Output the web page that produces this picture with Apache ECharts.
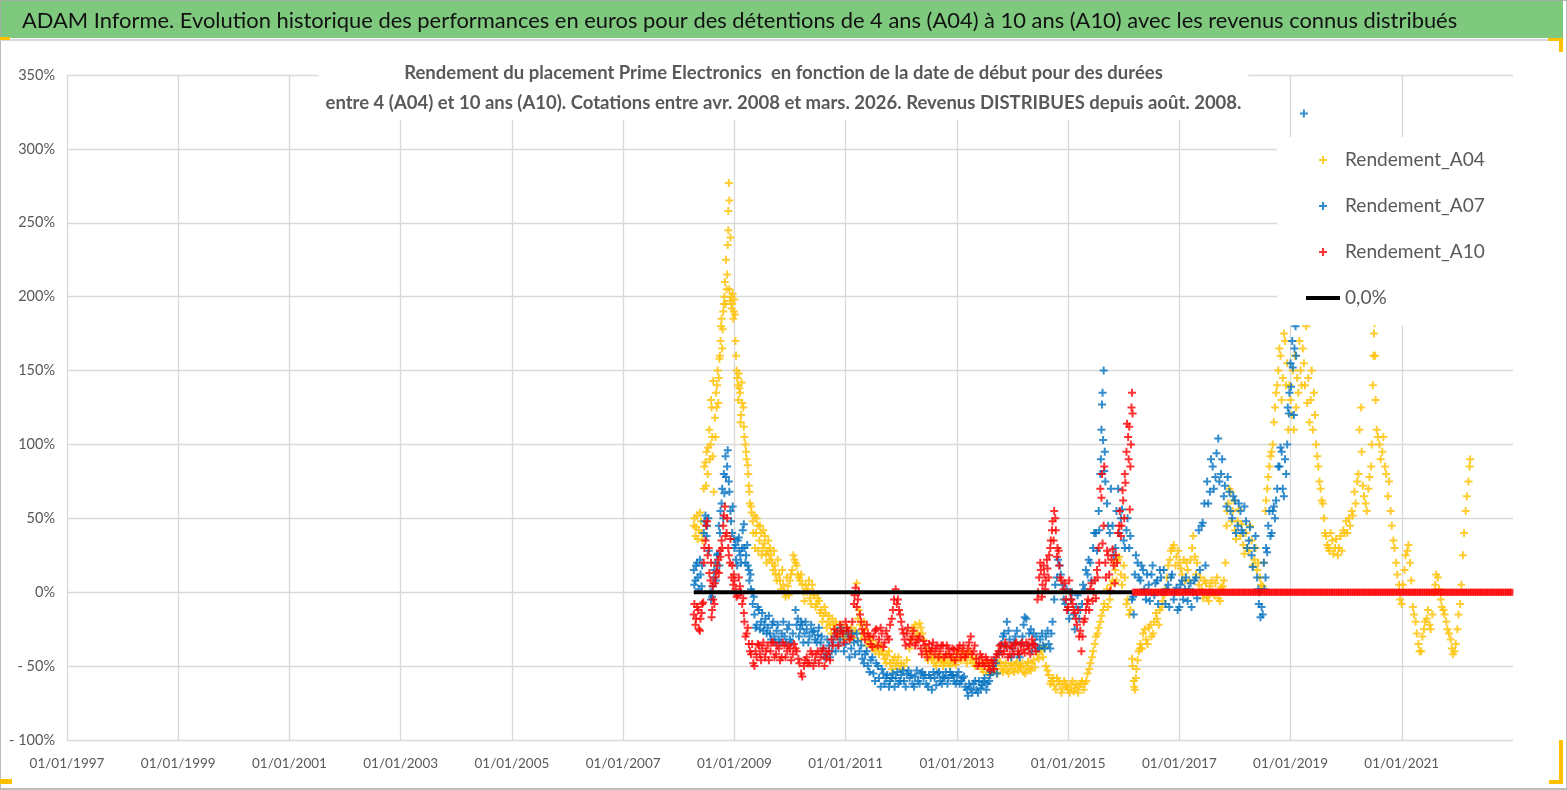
<!DOCTYPE html>
<html style="height: 100%">

<head>
    <meta charset="utf-8">
    <title>Rendement Prime Electronics</title>
</head>

<body style="height: 100%; margin: 0">
    <div id="container" style="width: 1567px; height: 790px"></div>
    <script src="https://cdn.jsdelivr.net/npm/echarts@6/dist/echarts.min.js"></script>
    <script type="text/javascript">
        var myChart = echarts.init(document.getElementById('container'));

        // textes
        var headerText = 'ADAM Informe. Evolution historique des performances en euros pour des détentions de 4 ans (A04) à 10 ans (A10) avec les revenus connus distribués';
        var subLine1 = 'Rendement du placement Prime Electronics  en fonction de la date de début pour des durées';
        var subLine2 = 'entre 4 (A04) et 10 ans (A10). Cotations entre avr. 2008 et mars. 2026. Revenus DISTRIBUES depuis août. 2008.';
        var seriesNames = ['Rendement_A04', 'Rendement_A07', 'Rendement_A10', '0,0%'];

        // axe des dates (annees) et axe des rendements (%)
        var xTicks = [1997, 1999, 2001, 2003, 2005, 2007, 2009, 2011, 2013, 2015, 2017, 2019, 2021, 2023];
        var yTicks = [-100, -50, 0, 50, 100, 150, 200, 250, 300, 350];

        // [date de debut (annee decimale), rendement en %]
        var a04 = [
            [2008.27, 45], [2008.30, 38], [2008.33, 52], [2008.36, 42], [2008.40, 48], [2008.43, 35],
            [2008.45, 70], [2008.48, 88], [2008.50, 95], [2008.52, 80], [2008.55, 110], [2008.57, 100],
            [2008.59, 125], [2008.61, 92], [2008.63, 68], [2008.65, 118], [2008.67, 135], [2008.69, 140],
            [2008.71, 128], [2008.73, 158], [2008.75, 170], [2008.77, 185], [2008.79, 178], [2008.81, 195],
            [2008.83, 210], [2008.85, 225], [2008.86, 205], [2008.88, 235], [2008.89, 258], [2008.90, 277],
            [2008.91, 265], [2008.93, 240], [2008.94, 200], [2008.96, 195], [2008.98, 185], [2009.00, 198],
            [2009.02, 170], [2009.04, 150], [2009.06, 140], [2009.08, 148], [2009.10, 135], [2009.12, 120],
            [2009.14, 128], [2009.17, 112], [2009.20, 100], [2009.22, 90], [2009.25, 80], [2009.27, 68],
            [2009.30, 58], [2009.33, 48], [2009.36, 52], [2009.39, 40], [2009.42, 45], [2009.45, 35],
            [2009.48, 40], [2009.51, 30], [2009.54, 33], [2009.57, 26], [2009.60, 28], [2009.63, 22],
            [2009.66, 25], [2009.70, 15], [2009.73, 18], [2009.76, 8], [2009.80, 12], [2009.84, 2],
            [2009.88, 5], [2009.92, -3], [2009.96, 4], [2010.00, 8], [2010.04, 15], [2010.08, 22],
            [2010.12, 18], [2010.16, 10], [2010.20, 12], [2010.24, 0], [2010.28, 5], [2010.32, 2],
            [2010.36, -4], [2010.40, 5], [2010.44, -2], [2010.48, -8], [2010.52, -6], [2010.56, -12],
            [2010.60, -16], [2010.64, -14], [2010.68, -20], [2010.72, -22], [2010.76, -18], [2010.80, -25],
            [2010.85, -27], [2010.90, -24], [2010.95, -30], [2011.00, -26], [2011.05, -29], [2011.10, -24],
            [2011.15, -31], [2011.20, 6], [2011.22, -18], [2011.26, -22], [2011.30, -28], [2011.35, -25],
            [2011.40, -32], [2011.45, -35], [2011.50, -38], [2011.55, -36], [2011.60, -42], [2011.65, -40],
            [2011.70, -45], [2011.75, -43], [2011.80, -48], [2011.85, -46], [2011.90, -50], [2011.95, -44],
            [2012.00, -48], [2012.05, -50], [2012.10, -46], [2012.15, -38], [2012.20, -26], [2012.25, -22],
            [2012.30, -28], [2012.35, -24], [2012.40, -32], [2012.45, -38], [2012.50, -42], [2012.55, -45],
            [2012.60, -48], [2012.65, -44], [2012.70, -47], [2012.75, -50], [2012.80, -46], [2012.85, -48],
            [2012.90, -44], [2012.95, -47], [2013.00, -42], [2013.05, -45], [2013.10, -40], [2013.15, -44],
            [2013.20, -42], [2013.25, -46], [2013.30, -48], [2013.35, -45], [2013.40, -50], [2013.45, -52],
            [2013.50, -48], [2013.55, -52], [2013.60, -50], [2013.65, -54], [2013.70, -50], [2013.75, -48],
            [2013.80, -52], [2013.85, -50], [2013.90, -53], [2013.95, -50], [2014.00, -52], [2014.05, -49],
            [2014.10, -53], [2014.15, -51], [2014.20, -54], [2014.25, -50], [2014.30, -52], [2014.35, -48],
            [2014.40, -51], [2014.45, -42], [2014.50, -38], [2014.55, -44], [2014.60, -50], [2014.65, -56],
            [2014.70, -60], [2014.75, -63], [2014.80, -58], [2014.85, -62], [2014.90, -65], [2014.95, -62],
            [2015.00, -66], [2015.05, -63], [2015.10, -67], [2015.15, -62], [2015.20, -64], [2015.25, -60],
            [2015.30, -62], [2015.35, -55], [2015.40, -48], [2015.45, -40], [2015.50, -30], [2015.55, -24],
            [2015.60, -16], [2015.65, -8], [2015.70, 2], [2015.75, -5], [2015.80, 8], [2015.85, 15],
            [2015.90, 22], [2015.95, 12], [2016.00, 18], [2016.05, -8], [2016.10, -15], [2016.15, -45],
            [2016.18, -60], [2016.20, -66], [2016.23, -52], [2016.27, -40], [2016.30, -35], [2016.35, -28],
            [2016.40, -32], [2016.45, -24], [2016.50, -30], [2016.55, -20], [2016.60, -18], [2016.65, -12],
            [2016.70, -6], [2016.75, 2], [2016.80, 18], [2016.85, 28], [2016.90, 32], [2016.95, 24],
            [2017.00, 20], [2017.05, 12], [2017.10, 8], [2017.15, 15], [2017.20, 22], [2017.25, 38],
            [2017.30, 12], [2017.35, 5], [2017.40, 2], [2017.45, 8], [2017.50, -3], [2017.55, 4],
            [2017.60, 0], [2017.65, 6], [2017.70, -4], [2017.75, 3], [2017.80, 8], [2017.85, 45],
            [2017.88, 60], [2017.92, 68], [2017.96, 55], [2018.00, 42], [2018.05, 48], [2018.10, 38],
            [2018.15, 32], [2018.20, 40], [2018.25, 28], [2018.30, 35], [2018.35, 22], [2018.40, 15],
            [2018.45, 10], [2018.50, 4], [2018.55, 55], [2018.58, 70], [2018.62, 85], [2018.66, 95],
            [2018.70, 115], [2018.74, 135], [2018.78, 150], [2018.82, 160], [2018.86, 145], [2018.90, 170],
            [2018.94, 155], [2018.98, 140], [2019.02, 120], [2019.06, 110], [2019.10, 125], [2019.14, 135],
            [2019.18, 150], [2019.22, 165], [2019.26, 140], [2019.30, 128], [2019.34, 115], [2019.38, 150],
            [2019.42, 135], [2019.46, 100], [2019.50, 85], [2019.54, 70], [2019.58, 60], [2019.62, 40],
            [2019.66, 32], [2019.70, 28], [2019.75, 35], [2019.80, 30], [2019.85, 25], [2019.90, 38],
            [2019.95, 42], [2020.00, 48], [2020.05, 50], [2020.10, 55], [2020.15, 68], [2020.20, 75],
            [2020.24, 110], [2020.27, 125], [2020.30, 72], [2020.35, 60], [2020.40, 70], [2020.45, 85],
            [2020.48, 140], [2020.50, 175], [2020.52, 160], [2020.55, 110], [2020.60, 100], [2020.65, 95],
            [2020.70, 85], [2020.75, 65], [2020.80, 55], [2020.85, 35], [2020.90, 20], [2020.95, 5],
            [2021.00, -8], [2021.05, 15], [2021.10, 28], [2021.15, 20], [2021.20, -10], [2021.25, -20],
            [2021.30, -35], [2021.35, -40], [2021.40, -25], [2021.45, -18], [2021.50, -22], [2021.55, -15],
            [2021.60, 5], [2021.65, 10], [2021.70, -5], [2021.75, -12], [2021.80, -20], [2021.85, -28],
            [2021.90, -38], [2021.95, -40], [2022.00, -25], [2022.05, -8], [2022.10, 25], [2022.15, 55],
            [2022.20, 75], [2022.23, 90]
        ];
        // deuxieme lecture : l'autre bord de chaque bande de points
        var a04Extra = [
            [2008.28, 50], [2008.31, 44], [2008.34, 36], [2008.38, 54], [2008.41, 40], [2008.46, 85],
            [2008.49, 72], [2008.53, 98], [2008.56, 90], [2008.58, 130], [2008.60, 105], [2008.62, 143],
            [2008.66, 105], [2008.68, 125], [2008.70, 150], [2008.72, 145], [2008.74, 160], [2008.76, 180],
            [2008.78, 165], [2008.80, 190], [2008.82, 200], [2008.84, 195], [2008.87, 215], [2008.89, 245],
            [2008.91, 205], [2008.92, 197], [2008.95, 192], [2008.97, 202], [2008.99, 190], [2009.01, 188],
            [2009.03, 160], [2009.05, 145], [2009.07, 130], [2009.09, 138], [2009.11, 115], [2009.13, 142],
            [2009.16, 125], [2009.18, 105], [2009.21, 95], [2009.24, 86], [2009.26, 72], [2009.28, 60],
            [2009.31, 54], [2009.34, 40], [2009.37, 30], [2009.40, 50], [2009.43, 28], [2009.46, 45],
            [2009.49, 25], [2009.52, 42], [2009.55, 38], [2009.58, 20], [2009.61, 35], [2009.64, 30],
            [2009.68, 20], [2009.71, 28], [2009.74, 12], [2009.78, 22], [2009.82, 8], [2009.86, 15],
            [2009.90, 0], [2009.94, 10], [2009.98, -2], [2010.02, 12], [2010.06, 25], [2010.10, 20],
            [2010.14, 12], [2010.18, 8], [2010.22, 5], [2010.26, -6], [2010.30, 0], [2010.34, 8],
            [2010.38, -8], [2010.42, 0], [2010.46, -10], [2010.50, -4], [2010.54, -14], [2010.58, -20],
            [2010.62, -10], [2010.66, -24], [2010.70, -16], [2010.74, -28], [2010.78, -22], [2010.82, -20],
            [2010.88, -30], [2010.92, -22], [2010.98, -32], [2011.03, -24], [2011.08, -32], [2011.12, -27],
            [2011.18, -26], [2011.24, -12], [2011.28, -32], [2011.33, -20], [2011.38, -36], [2011.43, -30],
            [2011.48, -33], [2011.53, -40], [2011.58, -38], [2011.63, -36], [2011.68, -42], [2011.73, -48],
            [2011.78, -40], [2011.83, -52], [2011.88, -44], [2011.93, -48], [2011.98, -52], [2012.18, -32],
            [2012.22, -24], [2012.27, -30], [2012.33, -21], [2012.38, -28], [2012.43, -42], [2012.48, -46],
            [2012.53, -40], [2012.58, -44], [2012.63, -50], [2012.68, -42], [2012.73, -45], [2012.78, -48],
            [2012.83, -42], [2012.88, -50], [2012.93, -45], [2012.98, -49], [2013.03, -40], [2013.08, -46],
            [2013.13, -42], [2013.18, -48], [2013.23, -40], [2013.28, -44], [2013.33, -50], [2013.43, -48],
            [2013.48, -54], [2013.53, -47], [2013.58, -55], [2013.63, -48], [2013.68, -52], [2013.73, -55],
            [2013.78, -47], [2013.83, -54], [2013.88, -48], [2013.93, -55], [2013.98, -48], [2014.03, -54],
            [2014.08, -47], [2014.13, -50], [2014.18, -48], [2014.23, -55], [2014.28, -47], [2014.33, -53],
            [2014.38, -46], [2014.47, -45], [2014.52, -40], [2014.57, -37], [2014.63, -53], [2014.68, -62],
            [2014.73, -58], [2014.78, -66], [2014.83, -60], [2014.88, -68], [2014.93, -60], [2014.98, -64],
            [2015.03, -68], [2015.08, -60], [2015.13, -65], [2015.18, -68], [2015.23, -62], [2015.28, -66],
            [2015.33, -60], [2015.38, -52], [2015.43, -44], [2015.48, -35], [2015.53, -28], [2015.58, -20],
            [2015.63, -12], [2015.72, -10], [2015.77, 5], [2015.82, 20], [2015.87, 8], [2015.92, 24],
            [2015.97, 5], [2016.02, 10], [2016.07, -5], [2016.12, -12], [2016.16, -50], [2016.19, -64],
            [2016.22, -58], [2016.25, -46], [2016.29, -38], [2016.33, -38], [2016.38, -25], [2016.43, -35],
            [2016.48, -22], [2016.53, -28], [2016.58, -14], [2016.63, -22], [2016.68, -10], [2016.73, -2],
            [2016.78, 10], [2016.83, 22], [2016.88, 30], [2016.93, 18], [2016.98, 28], [2017.03, 16],
            [2017.08, 22], [2017.13, 20], [2017.18, 8], [2017.23, 30], [2017.28, 24], [2017.32, 20],
            [2017.38, 10], [2017.43, -4], [2017.48, 6], [2017.53, -6], [2017.58, 8], [2017.63, -2],
            [2017.68, 10], [2017.73, -6], [2017.78, 4], [2017.83, 20], [2017.86, 55], [2017.90, 70],
            [2017.94, 48], [2017.98, 62], [2018.02, 36], [2018.07, 56], [2018.12, 46], [2018.17, 26],
            [2018.22, 30], [2018.27, 45], [2018.32, 18], [2018.37, 30], [2018.42, 20], [2018.47, 5],
            [2018.52, 20], [2018.56, 62], [2018.60, 78], [2018.64, 92], [2018.68, 100], [2018.72, 125],
            [2018.76, 140], [2018.80, 165], [2018.84, 130], [2018.88, 175], [2018.92, 140], [2018.96, 110],
            [2019.00, 130], [2019.04, 150], [2019.08, 160], [2019.12, 145], [2019.16, 170], [2019.20, 140],
            [2019.24, 155], [2019.28, 180], [2019.32, 145], [2019.36, 130], [2019.40, 110], [2019.44, 120],
            [2019.48, 92], [2019.52, 75], [2019.56, 62], [2019.60, 50], [2019.64, 38], [2019.68, 30],
            [2019.72, 40], [2019.77, 26], [2019.82, 36], [2019.87, 30], [2019.92, 28], [2019.97, 40],
            [2020.02, 40], [2020.07, 45], [2020.12, 52], [2020.17, 60], [2020.22, 80], [2020.28, 95],
            [2020.32, 65], [2020.37, 55], [2020.42, 78], [2020.46, 100], [2020.49, 160], [2020.51, 182],
            [2020.53, 130], [2020.57, 105], [2020.62, 90], [2020.67, 105], [2020.72, 80], [2020.77, 75],
            [2020.82, 45], [2020.87, 30], [2020.92, 12], [2020.97, -5], [2021.02, 5], [2021.07, 25],
            [2021.12, 32], [2021.17, 8], [2021.22, -15], [2021.27, -28], [2021.32, -40], [2021.37, -30],
            [2021.42, -20], [2021.47, -12], [2021.52, -25], [2021.57, 0], [2021.62, 12], [2021.67, 2],
            [2021.72, -10], [2021.77, -15], [2021.82, -25], [2021.88, -32], [2021.92, -42], [2021.97, -35],
            [2022.02, -15], [2022.07, 5], [2022.12, 40], [2022.17, 65], [2022.22, 85]
        ];

        var a07 = [
            [2008.27, 15], [2008.30, 8], [2008.33, 20], [2008.36, 2], [2008.39, 12], [2008.42, 18],
            [2008.45, 40], [2008.48, 52], [2008.51, 45], [2008.54, 28], [2008.57, 0], [2008.60, -3],
            [2008.63, 10], [2008.66, 20], [2008.69, 25], [2008.72, 45], [2008.75, 55], [2008.78, 70],
            [2008.81, 80], [2008.84, 92], [2008.87, 85], [2008.90, 75], [2008.93, 55], [2008.96, 40],
            [2009.00, 30], [2009.03, 22], [2009.06, 35], [2009.09, 28], [2009.12, 20], [2009.15, 42],
            [2009.18, 30], [2009.21, 25], [2009.24, 18], [2009.27, 8], [2009.30, 2], [2009.33, -8],
            [2009.36, -15], [2009.40, -22], [2009.44, -12], [2009.48, -20], [2009.52, -26], [2009.56, -18],
            [2009.60, -24], [2009.64, -28], [2009.68, -22], [2009.72, -30], [2009.76, -26], [2009.80, -32],
            [2009.85, -28], [2009.90, -30], [2009.95, -25], [2010.00, -32], [2010.05, -28], [2010.10, -12],
            [2010.14, -18], [2010.18, -25], [2010.22, -22], [2010.26, -28], [2010.30, -25], [2010.35, -30],
            [2010.40, -27], [2010.45, -32], [2010.50, -29], [2010.55, -34], [2010.60, -38], [2010.65, -42],
            [2010.70, -36], [2010.75, -40], [2010.80, -30], [2010.85, -26], [2010.90, -32], [2010.95, -28],
            [2011.00, -35], [2011.05, -30], [2011.10, -38], [2011.15, -34], [2011.20, -28], [2011.25, -40],
            [2011.30, -45], [2011.35, -42], [2011.40, -50], [2011.45, -46], [2011.50, -55], [2011.55, -48],
            [2011.60, -58], [2011.65, -52], [2011.70, -62], [2011.75, -56], [2011.80, -60], [2011.85, -55],
            [2011.90, -58], [2011.95, -62], [2012.00, -56], [2012.05, -60], [2012.10, -55], [2012.15, -58],
            [2012.20, -62], [2012.25, -57], [2012.30, -60], [2012.35, -55], [2012.40, -58], [2012.45, -62],
            [2012.50, -56], [2012.55, -66], [2012.60, -58], [2012.65, -55], [2012.70, -60], [2012.75, -57],
            [2012.80, -54], [2012.85, -58], [2012.90, -56], [2012.95, -60], [2013.00, -57], [2013.05, -62],
            [2013.10, -58], [2013.15, -64], [2013.20, -70], [2013.25, -65], [2013.30, -62], [2013.35, -66],
            [2013.40, -60], [2013.45, -63], [2013.50, -58], [2013.55, -62], [2013.60, -56], [2013.65, -50],
            [2013.70, -48], [2013.75, -42], [2013.80, -35], [2013.85, -28], [2013.90, -20], [2013.95, -32],
            [2014.00, -38], [2014.05, -30], [2014.10, -42], [2014.15, -35], [2014.20, -22], [2014.25, -18],
            [2014.30, -28], [2014.35, -40], [2014.40, -35], [2014.45, -38], [2014.50, -32], [2014.55, -36],
            [2014.60, -30], [2014.65, -35], [2014.70, -28], [2014.75, -5], [2014.80, 10], [2014.85, 18],
            [2014.90, 5], [2014.95, -8], [2015.00, -12], [2015.05, -5], [2015.10, -15], [2015.15, -10],
            [2015.20, -18], [2015.25, -8], [2015.30, 2], [2015.35, 12], [2015.40, 20], [2015.45, 30],
            [2015.50, 40], [2015.55, 55], [2015.58, 80], [2015.60, 110], [2015.62, 135], [2015.64, 150],
            [2015.66, 95], [2015.70, 60], [2015.75, 40], [2015.80, 45], [2015.85, 30], [2015.90, 70],
            [2015.95, 50], [2016.00, 35], [2016.05, 42], [2016.10, 30], [2016.15, -5], [2016.18, -15],
            [2016.20, 12], [2016.25, 20], [2016.30, 8], [2016.35, 15], [2016.40, -5], [2016.45, 5],
            [2016.50, 12], [2016.55, -2], [2016.60, 8], [2016.65, 15], [2016.70, 0], [2016.75, -8],
            [2016.80, 5], [2016.85, 10], [2016.90, -5], [2016.95, 3], [2017.00, -10], [2017.05, 8],
            [2017.10, 2], [2017.15, -6], [2017.20, 6], [2017.25, 0], [2017.30, 10], [2017.35, 42],
            [2017.40, 45], [2017.45, 60], [2017.50, 75], [2017.55, 68], [2017.60, 85], [2017.65, 78],
            [2017.70, 104], [2017.75, 80], [2017.80, 65], [2017.85, 58], [2017.90, 68], [2017.95, 50],
            [2018.00, 62], [2018.05, 45], [2018.10, 55], [2018.15, 40], [2018.20, 48], [2018.25, 35],
            [2018.30, 25], [2018.35, 30], [2018.40, 10], [2018.43, -8], [2018.46, -17], [2018.50, -15],
            [2018.53, 2], [2018.56, 30], [2018.60, 45], [2018.64, 38], [2018.68, 55], [2018.72, 50],
            [2018.76, 70], [2018.80, 85], [2018.84, 95], [2018.88, 65], [2018.92, 80], [2018.95, 125],
            [2018.98, 135], [2019.00, 155], [2019.03, 170], [2019.06, 120], [2019.09, 180], [2019.12, 184],
            [2019.24, 324]
        ];
        var a07Extra = [
            [2008.28, 5], [2008.31, 18], [2008.34, 10], [2008.38, 22], [2008.41, 4], [2008.46, 48],
            [2008.50, 38], [2008.53, 50], [2008.58, -5], [2008.61, 4], [2008.64, 15], [2008.67, 8],
            [2008.70, 26], [2008.73, 18], [2008.74, 40], [2008.77, 60], [2008.80, 50], [2008.82, 67],
            [2008.85, 78], [2008.88, 96], [2008.91, 68], [2008.94, 48], [2008.97, 58], [2008.99, 36],
            [2009.02, 32], [2009.05, 18], [2009.08, 37], [2009.11, 25], [2009.14, 30], [2009.17, 46],
            [2009.20, 20], [2009.23, 32], [2009.26, 15], [2009.29, 12], [2009.32, 0], [2009.35, -3],
            [2009.38, -24], [2009.42, -10], [2009.46, -25], [2009.50, -14], [2009.54, -22], [2009.58, -28],
            [2009.62, -16], [2009.66, -32], [2009.70, -20], [2009.74, -34], [2009.78, -22], [2009.83, -34],
            [2009.88, -20], [2009.93, -34], [2009.98, -22], [2010.03, -34], [2010.12, -22], [2010.16, -30],
            [2010.20, -20], [2010.24, -34], [2010.28, -20], [2010.33, -34], [2010.38, -22], [2010.43, -26],
            [2010.48, -34], [2010.52, -24], [2010.57, -30], [2010.62, -44], [2010.67, -32], [2010.72, -44],
            [2010.77, -34], [2010.82, -40], [2010.87, -36], [2010.92, -24], [2010.97, -40], [2011.02, -26],
            [2011.07, -44], [2011.12, -28], [2011.17, -42], [2011.22, -33], [2011.28, -36], [2011.33, -48],
            [2011.38, -40], [2011.43, -54], [2011.48, -44], [2011.53, -60], [2011.58, -50], [2011.63, -64],
            [2011.68, -55], [2011.73, -58], [2011.78, -64], [2011.83, -58], [2011.88, -64], [2011.93, -54],
            [2011.98, -60], [2012.03, -53], [2012.08, -64], [2012.13, -53], [2012.18, -56], [2012.23, -64],
            [2012.28, -53], [2012.33, -62], [2012.38, -54], [2012.43, -56], [2012.48, -64], [2012.53, -58],
            [2012.58, -54], [2012.63, -63], [2012.68, -54], [2012.73, -62], [2012.78, -58], [2012.83, -62],
            [2012.88, -54], [2012.93, -56], [2012.98, -62], [2013.03, -54], [2013.08, -60], [2013.13, -57],
            [2013.18, -66], [2013.22, -62], [2013.28, -68], [2013.33, -60], [2013.38, -68], [2013.43, -65],
            [2013.48, -61], [2013.53, -66], [2013.58, -60], [2013.62, -54], [2013.67, -46], [2013.72, -55],
            [2013.78, -40], [2013.83, -30], [2013.88, -36], [2013.93, -26], [2013.98, -44], [2014.03, -34],
            [2014.08, -26], [2014.13, -44], [2014.18, -30], [2014.22, -17], [2014.28, -36], [2014.33, -25],
            [2014.38, -28], [2014.43, -30], [2014.48, -38], [2014.53, -28], [2014.58, -38], [2014.63, -26],
            [2014.68, -38], [2014.72, -20], [2014.77, 5], [2014.82, 22], [2014.87, 12], [2014.92, -5],
            [2014.97, 2], [2015.02, -18], [2015.07, 0], [2015.12, -25], [2015.17, -2], [2015.22, -12],
            [2015.27, 5], [2015.32, 15], [2015.37, 22], [2015.42, 8], [2015.47, 40], [2015.52, 28],
            [2015.56, 42], [2015.59, 90], [2015.61, 127], [2015.63, 103], [2015.65, 82], [2015.67, 75],
            [2015.72, 45], [2015.77, 70], [2015.82, 25], [2015.87, 55], [2015.92, 40], [2015.97, 56],
            [2016.02, 30], [2016.07, 50], [2016.12, 38], [2016.17, -3], [2016.22, 25], [2016.27, 10],
            [2016.32, 18], [2016.37, 2], [2016.42, 12], [2016.47, -6], [2016.52, 18], [2016.57, 6],
            [2016.62, -8], [2016.67, 10], [2016.72, 15], [2016.77, 2], [2016.82, -10], [2016.87, 12],
            [2016.92, 0], [2016.97, -12], [2017.02, 5], [2017.07, -5], [2017.12, 10], [2017.17, 2],
            [2017.22, -10], [2017.27, 8], [2017.32, -4], [2017.37, 15], [2017.42, 47], [2017.47, 18],
            [2017.52, 60], [2017.57, 90], [2017.62, 70], [2017.67, 94], [2017.72, 75], [2017.77, 90],
            [2017.82, 72], [2017.87, 78], [2017.92, 55], [2017.97, 65], [2018.02, 40], [2018.07, 60],
            [2018.12, 42], [2018.17, 58], [2018.22, 30], [2018.27, 44], [2018.32, 17], [2018.37, 38],
            [2018.42, 2], [2018.44, 0], [2018.48, -10], [2018.52, 20], [2018.55, 10], [2018.58, 27],
            [2018.62, 55], [2018.66, 40], [2018.70, 58], [2018.74, 62], [2018.78, 85], [2018.82, 98],
            [2018.86, 70], [2018.90, 90], [2018.94, 100], [2018.97, 121], [2019.01, 139], [2019.04, 152],
            [2019.07, 165], [2019.10, 160]
        ];

        var a10 = [
            [2008.27, -15], [2008.30, -22], [2008.33, -10], [2008.36, -25], [2008.39, -18], [2008.42, -8],
            [2008.45, 20], [2008.48, 35], [2008.51, 48], [2008.54, 30], [2008.57, 8], [2008.60, -12],
            [2008.62, -5], [2008.65, 6], [2008.68, 14], [2008.71, 22], [2008.74, 28], [2008.77, 35],
            [2008.80, 45], [2008.83, 58], [2008.86, 40], [2008.89, 30], [2008.92, 20], [2008.95, 10],
            [2008.98, 5], [2009.02, 2], [2009.06, -2], [2009.10, 4], [2009.14, -8], [2009.18, -20],
            [2009.22, -28], [2009.26, -35], [2009.30, -42], [2009.34, -48], [2009.38, -40], [2009.42, -35],
            [2009.46, -42], [2009.50, -38], [2009.55, -44], [2009.60, -36], [2009.65, -40], [2009.70, -34],
            [2009.75, -42], [2009.80, -38], [2009.85, -44], [2009.90, -36], [2009.95, -40], [2010.00, -38],
            [2010.05, -42], [2010.10, -38], [2010.15, -45], [2010.20, -55], [2010.25, -50], [2010.30, -44],
            [2010.35, -48], [2010.40, -42], [2010.45, -46], [2010.50, -40], [2010.55, -44], [2010.60, -38],
            [2010.65, -45], [2010.70, -40], [2010.75, -32], [2010.80, -25], [2010.85, -30], [2010.90, -22],
            [2010.95, -28], [2011.00, -20], [2011.05, -26], [2011.10, -30], [2011.15, -8], [2011.18, 3],
            [2011.22, -5], [2011.26, -15], [2011.30, -25], [2011.35, -32], [2011.40, -28], [2011.45, -35],
            [2011.50, -30], [2011.55, -25], [2011.60, -32], [2011.65, -28], [2011.70, -34], [2011.75, -30],
            [2011.80, -22], [2011.85, -12], [2011.90, 2], [2011.94, -5], [2011.98, -15], [2012.02, -25],
            [2012.06, -32], [2012.10, -28], [2012.15, -35], [2012.20, -30], [2012.25, -36], [2012.30, -32],
            [2012.35, -38], [2012.40, -33], [2012.45, -40], [2012.50, -35], [2012.55, -38], [2012.60, -42],
            [2012.65, -36], [2012.70, -40], [2012.75, -36], [2012.80, -42], [2012.85, -38], [2012.90, -44],
            [2012.95, -39], [2013.00, -42], [2013.05, -36], [2013.10, -40], [2013.15, -44], [2013.20, -38],
            [2013.25, -30], [2013.30, -40], [2013.35, -45], [2013.40, -48], [2013.45, -44], [2013.50, -50],
            [2013.55, -46], [2013.60, -53], [2013.65, -48], [2013.70, -44], [2013.75, -40], [2013.80, -36],
            [2013.85, -40], [2013.90, -37], [2013.95, -42], [2014.00, -38], [2014.05, -35], [2014.10, -40],
            [2014.15, -36], [2014.20, -39], [2014.25, -34], [2014.30, -38], [2014.35, -32], [2014.40, -36],
            [2014.45, -5], [2014.48, 10], [2014.51, 15], [2014.54, 5], [2014.57, 12], [2014.60, 8],
            [2014.63, 16], [2014.66, 25], [2014.69, 35], [2014.72, 48], [2014.75, 55], [2014.78, 42],
            [2014.81, 30], [2014.84, 18], [2014.88, 8], [2014.92, 2], [2014.96, -5], [2015.00, -10],
            [2015.04, 0], [2015.08, -8], [2015.12, -14], [2015.16, -22], [2015.20, -30], [2015.24, -40],
            [2015.28, -20], [2015.32, -12], [2015.36, -5], [2015.40, 2], [2015.44, -6], [2015.48, 8],
            [2015.52, 15], [2015.55, 30], [2015.58, 70], [2015.61, 80], [2015.64, 45], [2015.67, 20],
            [2015.70, 28], [2015.74, 12], [2015.78, 22], [2015.82, 18], [2015.86, 25], [2015.90, 40],
            [2015.93, 55], [2015.96, 45], [2015.99, 62], [2016.02, 80], [2016.05, 95], [2016.08, 105],
            [2016.10, 112], [2016.12, 85], [2016.14, 125], [2016.15, 135]
        ];
        var a10Extra = [
            [2008.28, -8], [2008.31, -18], [2008.35, -12], [2008.38, -26], [2008.41, -14], [2008.44, -7],
            [2008.46, 30], [2008.49, 45], [2008.52, 25], [2008.55, 13], [2008.58, 20], [2008.59, -17],
            [2008.61, 4], [2008.64, -8], [2008.66, 10], [2008.69, 18], [2008.72, 13], [2008.75, 24],
            [2008.78, 30], [2008.81, 52], [2008.84, 38], [2008.87, 50], [2008.90, 25], [2008.93, 36],
            [2008.96, 18], [2008.99, 12], [2009.00, 8], [2009.04, -3], [2009.08, 10], [2009.12, 0],
            [2009.16, -4], [2009.17, -14], [2009.20, -30], [2009.24, -24], [2009.28, -40], [2009.32, -35],
            [2009.36, -50], [2009.40, -44], [2009.44, -36], [2009.48, -46], [2009.52, -34], [2009.57, -40],
            [2009.62, -46], [2009.67, -34], [2009.72, -44], [2009.77, -36], [2009.82, -46], [2009.87, -34],
            [2009.92, -44], [2009.97, -36], [2010.02, -46], [2010.07, -35], [2010.12, -40], [2010.17, -48],
            [2010.22, -57], [2010.27, -46], [2010.32, -48], [2010.37, -40], [2010.42, -50], [2010.47, -42],
            [2010.52, -48], [2010.57, -40], [2010.62, -50], [2010.67, -42], [2010.72, -46], [2010.77, -36],
            [2010.82, -28], [2010.87, -36], [2010.92, -26], [2010.97, -34], [2011.02, -24], [2011.07, -32],
            [2011.12, -20], [2011.16, -2], [2011.20, -10], [2011.24, 0], [2011.28, -20], [2011.33, -28],
            [2011.38, -22], [2011.43, -30], [2011.48, -37], [2011.53, -26], [2011.58, -36], [2011.63, -24],
            [2011.68, -37], [2011.73, -26], [2011.78, -32], [2011.83, -18], [2011.87, -5], [2011.92, -8],
            [2011.96, -12], [2012.00, -20], [2012.04, -28], [2012.08, -36], [2012.12, -24], [2012.17, -32],
            [2012.22, -26], [2012.27, -34], [2012.33, -30], [2012.37, -42], [2012.42, -36], [2012.47, -44],
            [2012.52, -40], [2012.57, -34], [2012.62, -38], [2012.67, -44], [2012.72, -36], [2012.77, -44],
            [2012.82, -36], [2012.87, -42], [2012.92, -38], [2012.97, -46], [2013.02, -38], [2013.07, -44],
            [2013.12, -36], [2013.17, -42], [2013.22, -34], [2013.27, -42], [2013.32, -36], [2013.37, -50],
            [2013.42, -42], [2013.47, -48], [2013.52, -44], [2013.57, -50], [2013.62, -46], [2013.67, -52],
            [2013.72, -42], [2013.77, -36], [2013.82, -42], [2013.87, -34], [2013.92, -44], [2013.97, -36],
            [2014.02, -42], [2014.07, -34], [2014.12, -42], [2014.17, -34], [2014.22, -41], [2014.27, -36],
            [2014.32, -42], [2014.37, -35], [2014.42, -40], [2014.46, 0], [2014.50, 20], [2014.53, -3],
            [2014.56, 18], [2014.59, 2], [2014.62, 22], [2014.65, 10], [2014.68, 30], [2014.71, 42],
            [2014.74, 35], [2014.77, 50], [2014.80, 24], [2014.83, 28], [2014.86, 10], [2014.94, 6],
            [2014.98, -12], [2015.02, 8], [2015.06, -5], [2015.10, -12], [2015.14, -18], [2015.18, -12],
            [2015.22, -26], [2015.26, -30], [2015.30, -18], [2015.34, -8], [2015.38, -12], [2015.42, 6],
            [2015.46, 0], [2015.50, -4], [2015.53, 10], [2015.56, 20], [2015.60, 64], [2015.62, 33],
            [2015.65, 85], [2015.68, 10], [2015.72, 25], [2015.76, 1], [2015.80, 29], [2015.84, 6],
            [2015.88, 20], [2015.92, 45], [2015.95, 38], [2015.98, 69], [2016.01, 50], [2016.03, 74],
            [2016.06, 114], [2016.09, 90], [2016.11, 56], [2016.13, 100], [2016.16, 121]
        ];

        // A10 : a partir de 2016.18 les rendements sont a 0 (un point tous les demi-mois)
        var a10TailStart = 2016.18;
        var a10Tail = [
            0, 0, 0, 0, 0, 0, 0, 0, 0, 0, 0, 0, 0, 0, 0, 0, 0, 0, 0, 0,
            0, 0, 0, 0, 0, 0, 0, 0, 0, 0, 0, 0, 0, 0, 0, 0, 0, 0, 0, 0,
            0, 0, 0, 0, 0, 0, 0, 0, 0, 0, 0, 0, 0, 0, 0, 0, 0, 0, 0, 0,
            0, 0, 0, 0, 0, 0, 0, 0, 0, 0, 0, 0, 0, 0, 0, 0, 0, 0, 0, 0,
            0, 0, 0, 0, 0, 0, 0, 0, 0, 0, 0, 0, 0, 0, 0, 0, 0, 0, 0, 0,
            0, 0, 0, 0, 0, 0, 0, 0, 0, 0, 0, 0, 0, 0, 0, 0, 0, 0, 0, 0,
            0, 0, 0, 0, 0, 0, 0, 0, 0, 0, 0, 0, 0, 0, 0, 0, 0, 0, 0, 0,
            0, 0, 0, 0, 0, 0, 0, 0, 0, 0, 0, 0, 0, 0, 0, 0, 0, 0, 0, 0,
            0, 0, 0, 0
        ];

        // ligne de reference 0,0 %
        var zeroLine = [[2008.27, 0], [2016.15, 0]];

        // points tres serres : dessines comme un trait plein
        var a10Data = a10.concat(a10Extra, a10Tail.map(function (v, i) {
            return { value: [a10TailStart + i / 24, v], symbol: 'rect', symbolSize: [4, 7] };
        }));

        var plus = 'path://M3,0H5V3H8V5H5V8H3V5H0V3H3Z';
        var font = "Lato, 'Open Sans', sans-serif";
        var grey = '#595959';

        // taille de police pour qu'un texte occupe la largeur voulue
        var ctx = document.createElement('canvas').getContext('2d');
        function fitSize(text, weight, width) {
            ctx.font = weight + ' 100px ' + font;
            return Math.round(100 * width / ctx.measureText(text).width * 10) / 10;
        }
        var headerSize = fitSize(headerText, 'normal', 1434);
        var subSize = fitSize(subLine2, 'bold', 918);
        var legendSize = fitSize(seriesNames[0], 'normal', 140);

        function scatter(name, data, color) {
            return {
                name: name,
                type: 'scatter',
                data: data,
                symbol: plus,
                symbolSize: 8,
                itemStyle: { color: color },
                silent: true
            };
        }

        var option = {
            backgroundColor: '#fff',
            animation: false,
            textStyle: { fontFamily: font },
            title: [{
                text: headerText,
                left: 22,
                top: 21 - headerSize / 2,
                padding: 0,
                textStyle: { fontSize: headerSize, lineHeight: headerSize, fontWeight: 'normal', color: '#111', fontFamily: font }
            }, {
                text: subLine1 + '\n' + subLine2,
                left: 'center',
                top: 58,
                padding: [0, 7, 2, 7],
                backgroundColor: '#fff',
                textStyle: {
                    fontSize: subSize, lineHeight: 30, fontWeight: 'bold', color: grey, fontFamily: font
                }
            }],
            graphic: [
                { type: 'rect', z: 0, shape: { x: 0, y: 0, width: 1563, height: 38 }, style: { fill: '#7fc97f' } },
                { type: 'rect', z: 1, shape: { x: 0, y: 0, width: 1567, height: 789 }, style: { fill: 'none', stroke: '#a6a6a6', lineWidth: 1.5 } },
                { type: 'line', z: 1, shape: { x1: 0, y1: 40, x2: 1563, y2: 40 }, style: { stroke: '#d9d9d9', lineWidth: 2 } },
                { type: 'rect', z: 1, shape: { x: 0, y: 37, width: 10, height: 3 }, style: { fill: '#ffc000' } },
                { type: 'rect', z: 1, shape: { x: 1548, y: 38, width: 15, height: 3 }, style: { fill: '#ffc000' } },
                { type: 'rect', z: 1, shape: { x: 1559, y: 38, width: 4, height: 14 }, style: { fill: '#ffc000' } },
                { type: 'rect', z: 1, shape: { x: 1559, y: 740, width: 4, height: 44 }, style: { fill: '#ffc000' } },
                { type: 'rect', z: 1, shape: { x: 1549, y: 780, width: 14, height: 4 }, style: { fill: '#ffc000' } },
                { type: 'rect', z: 1, shape: { x: 0, y: 779, width: 12, height: 5 }, style: { fill: '#ffc000' } }
            ],
            legend: {
                data: [
                    seriesNames[0], seriesNames[1], seriesNames[2],
                    { name: seriesNames[3], icon: 'path://M0,0H34V4H0Z' }
                ],
                orient: 'vertical',
                left: 1277,
                top: 137,
                padding: [12, 28, 16, 29],
                backgroundColor: '#fff',
                itemWidth: 34,
                itemHeight: 8,
                itemGap: 24,
                itemTextGap: 4,
                textStyle: { fontSize: legendSize, lineHeight: 22, color: grey, fontFamily: font },
                selectedMode: false
            },
            grid: { left: 67, top: 75, width: 1446, height: 665, containLabel: false },
            xAxis: {
                type: 'value',
                min: xTicks[0],
                max: xTicks[xTicks.length - 1],
                interval: 2,
                axisLine: { show: false },
                axisTick: { show: false },
                axisLabel: {
                    margin: 17, fontSize: 13.5, color: grey, fontFamily: font,
                    formatter: function (v) {
                        return v >= xTicks[xTicks.length - 1] ? '' : '01/01/' + v;
                    }
                },
                splitLine: { show: true, showMaxLine: false, lineStyle: { color: '#d9d9d9', width: 1.3 } }
            },
            yAxis: {
                type: 'value',
                min: yTicks[0],
                max: yTicks[yTicks.length - 1],
                interval: 50,
                axisLine: { show: false },
                axisTick: { show: false },
                axisLabel: {
                    margin: 12, fontSize: 14.5, color: grey, fontFamily: font,
                    formatter: function (v) {
                        return v < 0 ? '- ' + (-v) + '%' : v + '%';
                    }
                },
                splitLine: { show: true, lineStyle: { color: '#d9d9d9', width: 1.3 } }
            },
            series: [
                scatter(seriesNames[0], a04.concat(a04Extra), '#ffc000'),
                scatter(seriesNames[1], a07.concat(a07Extra), '#0070c0'),
                scatter(seriesNames[2], a10Data, '#ff0000'),
                {
                    name: seriesNames[3],
                    type: 'line',
                    data: zeroLine,
                    symbol: 'none',
                    silent: true,
                    itemStyle: { color: '#000' },
                    lineStyle: { color: '#000', width: 4 }
                }
            ]
        };
        myChart.setOption(option);
    </script>
</body>

</html>
